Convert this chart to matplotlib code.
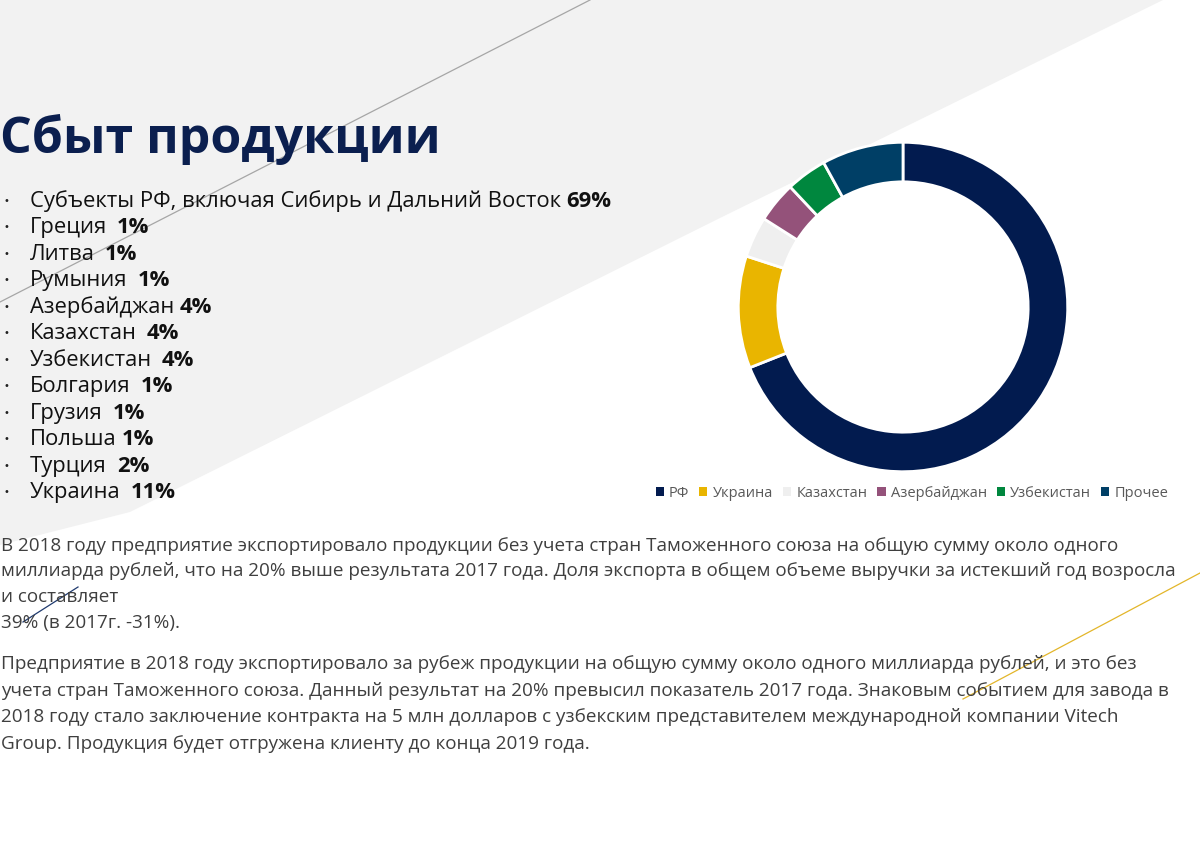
import matplotlib
matplotlib.use("Agg")
import matplotlib.pyplot as plt
from matplotlib.patches import Polygon, Patch

# ---------------- data ----------------
title = "Сбыт продукции"

list_names = ["Субъекты РФ, включая Сибирь и Дальний Восток", "Греция", "Литва",
              "Румыния", "Азербайджан", "Казахстан", "Узбекистан", "Болгария",
              "Грузия", "Польша", "Турция", "Украина"]
list_shares = [69, 1, 1, 1, 4, 4, 4, 1, 1, 1, 2, 11]
list_gaps = [1, 2, 2, 2, 1, 2, 2, 2, 2, 1, 2, 2]

donut_labels = ["РФ", "Украина", "Казахстан", "Азербайджан", "Узбекистан", "Прочее"]
donut_values = [69, 11, 4, 4, 4, 8]
donut_colors = ["#021b4f", "#e9b500", "#efefef", "#94527a", "#00873e", "#003f66"]

para_lines = [
    "В 2018 году предприятие экспортировало продукции без учета стран Таможенного союза на общую сумму около одного",
    "миллиарда рублей, что на 20% выше результата 2017 года. Доля экспорта в общем объеме выручки за истекший год возросла",
    "и составляет",
    "39% (в 2017г. -31%).",
]
para2_lines = [
    "Предприятие в 2018 году экспортировало за рубеж продукции на общую сумму около одного миллиарда рублей, и это без",
    "учета стран Таможенного союза. Данный результат на 20% превысил показатель 2017 года. Знаковым событием для завода в",
    "2018 году стало заключение контракта на 5 млн долларов с узбекским представителем международной компании Vitech",
    "Group. Продукция будет отгружена клиенту до конца 2019 года.",
]

# ---------------- figure ----------------
W, H = 1200, 855
fig = plt.figure(figsize=(W / 100, H / 100), dpi=100)
fig.patch.set_facecolor("white")

bg = fig.add_axes([0, 0, 1, 1])
bg.set_xlim(0, W)
bg.set_ylim(H, 0)
bg.axis("off")

# light grey background shape
bg.add_patch(Polygon([(0, 0), (1163, 0), (720, 218), (130, 512), (0, 545)],
                     closed=True, facecolor="#f2f2f2", edgecolor="none", zorder=0))
# decorative thin lines
bg.plot([590, 0], [0, 302], color="#a6a6a6", lw=0.9, zorder=1)
bg.plot([23, 78], [622, 587], color="#1f3a6e", lw=0.9, zorder=1)
bg.plot([963, 1200], [699, 573], color="#e3b62a", lw=0.9, zorder=1)

# title
bg.text(0, 153, title, fontsize=36, fontweight="bold", color="#0b1f4f",
        family="Open Sans", va="baseline", ha="left", zorder=3)

# bullet list
renderer = fig.canvas.get_renderer()
y0, dy = 207, 26.45
for i, (name, share, gap) in enumerate(zip(list_names, list_shares, list_gaps)):
    y = y0 + i * dy
    bg.text(6, y - 6, "•", fontsize=7, color="#222222", ha="center", va="center",
            family="DejaVu Sans", zorder=3)
    t = bg.text(30, y, name, fontsize=15.8, color="#111111", family="Open Sans",
                va="baseline", ha="left", zorder=3)
    bb = t.get_window_extent(renderer)
    x_end = bg.transData.inverted().transform((bb.x1, bb.y0))[0]
    bg.text(x_end + 5 * gap, y, f"{share}%", fontsize=15.8, fontweight="bold",
            color="#111111", family="Open Sans", va="baseline", ha="left", zorder=3)

# paragraphs
para_y = [551, 576, 602, 628]
for line, y in zip(para_lines, para_y):
    bg.text(1, y, line, fontsize=13.6, color="#3f3f3f", family="Open Sans",
            va="baseline", ha="left", zorder=3)
para2_y = [669, 696, 722, 749]
for line, y in zip(para2_lines, para2_y):
    bg.text(1, y, line, fontsize=13.6, color="#3f3f3f", family="Open Sans",
            va="baseline", ha="left", zorder=3)

# donut chart
cx, cy, r = 903, 307, 168
ax = fig.add_axes([(cx - r) / W, (H - cy - r) / H, 2 * r / W, 2 * r / H])
ax.set_zorder(5)
wedges, _ = ax.pie(donut_values, colors=donut_colors, startangle=90, counterclock=False,
                   radius=1.0, wedgeprops=dict(width=0.24, edgecolor="white", linewidth=2))
ax.set_xlim(-1.02, 1.02)
ax.set_ylim(-1.02, 1.02)
ax.set_aspect("equal")
ax.axis("off")

handles = [Patch(facecolor=c, edgecolor="none") for c in donut_colors]
leg = fig.legend(handles, donut_labels, loc="center",
                 bbox_to_anchor=(912 / W, 1 - 493 / H), ncol=6, frameon=False,
                 handlelength=0.55, handleheight=0.55,
                 handletextpad=0.35, columnspacing=0.7,
                 prop={"family": "Open Sans", "size": 10.5})
for txt in leg.get_texts():
    txt.set_color("#595959")

fig.savefig("out.png", dpi=100, facecolor="white")
